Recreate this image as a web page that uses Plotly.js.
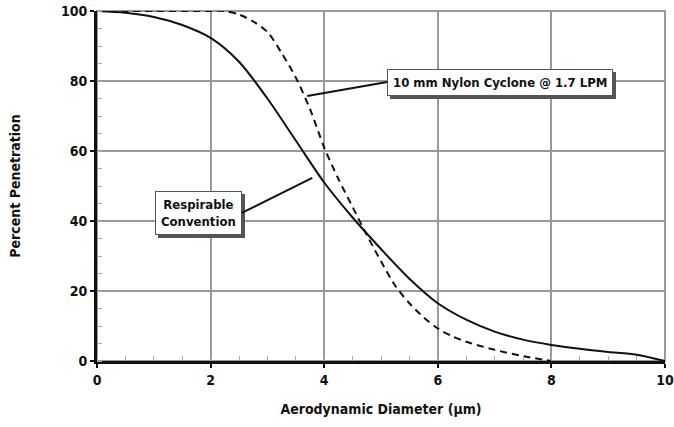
<!DOCTYPE html>
<html>
<head>
<meta charset="utf-8">
<script src="https://cdn.plot.ly/plotly-3.0.1.min.js"></script>
<style>
html,body{margin:0;padding:0;background:#fff;}
#chart{width:674px;height:427px;}
.annotation rect.bg{filter: drop-shadow(3px 3px 0 #555);}
</style>
</head>
<body>
<div id="chart"></div>
<script>
// Respirable convention (solid)
const respX = [0, 0.5, 1, 1.5, 2, 2.5, 3, 3.5, 4, 4.5, 5, 5.5, 6, 6.5, 7, 7.5, 8, 8.5, 9, 9.5, 10];
const respY = [100, 99.5, 98.3, 96, 92.3, 85.5, 75, 63, 51, 41, 32, 23.5, 16.5, 11.8, 8.4, 6.1, 4.6, 3.5, 2.6, 1.8, 0];
// 10 mm nylon cyclone @ 1.7 LPM (dashed)
const cycX = [0, 1, 2, 2.25, 2.5, 2.75, 3, 3.25, 3.5, 3.75, 4, 4.25, 4.5, 4.75, 5, 5.25, 5.5, 5.75, 6, 6.25, 6.5, 7, 7.5, 8];
const cycY = [100, 100, 100, 100, 99, 97, 94, 88, 81, 72, 61, 52, 44, 36, 28.5, 21.5, 16.5, 12.5, 9.3, 7.1, 5.5, 3.2, 1.4, 0];
const xTicks = [0, 2, 4, 6, 8, 10];
const yTicks = [0, 20, 40, 60, 80, 100];
const labelCyc = "10 mm Nylon Cyclone @ 1.7 LPM";
const labelResp = "Respirable<br>Convention";
const xTitle = "Aerodynamic Diameter (μm)";
const yTitle = "Percent Penetration";

const FONT = '"DejaVu Sans Condensed", "Liberation Sans Narrow", "Liberation Sans", Arial, sans-serif';
const boldFont = {family: FONT, size: 13, color: '#111', weight: 'bold'};

const traces = [
  {x: respX, y: respY, mode: 'lines', line: {color: '#111', width: 2, shape: 'spline', smoothing: 0.8}, hoverinfo: 'skip'},
  {x: cycX, y: cycY, mode: 'lines', line: {color: '#111', width: 2, dash: '7px,5px', shape: 'spline', smoothing: 0.8}, hoverinfo: 'skip'}
];

function boxAnn(text, ax, ay, tx, ty, anchor) {
  return {x: tx, y: ty, ax: ax, ay: ay, axref: 'x', ayref: 'y', xref: 'x', yref: 'y', text: text,
     showarrow: true, arrowhead: 0, arrowwidth: 2, arrowcolor: '#111',
     xanchor: anchor, yanchor: 'middle',
     font: boldFont, bgcolor: '#fff', bordercolor: '#555', borderwidth: 1, borderpad: 5};
}

const annotations = [
  boxAnn(labelCyc, 5.11, 79.7, 3.70, 75.7, 'left'),
  boxAnn(labelResp, 2.55, 42.3, 3.79, 52.3, 'right')
];

const layout = {
  width: 674, height: 427,
  margin: {l: 97, r: 9, t: 11, b: 66},
  paper_bgcolor: '#fff', plot_bgcolor: '#fff',
  showlegend: false,
  font: {family: FONT, size: 13, color: '#111', weight: 'bold'},
  xaxis: {
    range: [0, 10], tickvals: xTicks, ticktext: xTicks.map(String),
    showgrid: true, gridcolor: '#999', gridwidth: 2,
    showline: true, linecolor: '#111', linewidth: 3,
    ticks: 'outside', ticklen: 4, tickwidth: 2, tickcolor: '#111',
    minor: {dtick: 0.5, ticks: 'inside', ticklen: 5, tickwidth: 1, tickcolor: '#aaa', showgrid: false},
    zeroline: false, fixedrange: true,
    tickfont: {family: FONT, size: 14, color: '#111', weight: 'bold'},
    title: {text: xTitle, font: {family: FONT, size: 14, color: '#111', weight: 'bold'}, standoff: 18}
  },
  yaxis: {
    range: [0, 100], tickvals: yTicks, ticktext: yTicks.map(String),
    showgrid: true, gridcolor: '#999', gridwidth: 2,
    showline: true, linecolor: '#111', linewidth: 3,
    ticks: 'outside', ticklen: 4, tickwidth: 2, tickcolor: '#111',
    minor: {dtick: 5, ticks: 'inside', ticklen: 5, tickwidth: 1, tickcolor: '#aaa', showgrid: false},
    zeroline: false, fixedrange: true,
    tickfont: {family: FONT, size: 14, color: '#111', weight: 'bold'},
    title: {text: yTitle, font: {family: FONT, size: 14, color: '#111', weight: 'bold'}, standoff: 38}
  },
  shapes: [
    {type: 'rect', xref: 'paper', yref: 'paper', x0: 0, x1: 1, y0: 0, y1: 1, line: {color: '#999', width: 2}, layer: 'below'}
  ],
  annotations: annotations
};

Plotly.newPlot('chart', traces, layout, {staticPlot: true, displayModeBar: false});
</script>
</body>
</html>
